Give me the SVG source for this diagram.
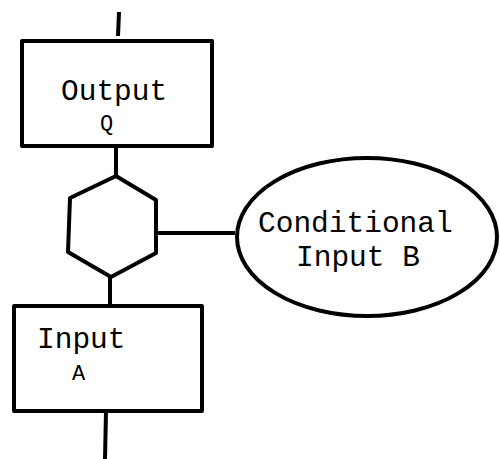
<svg xmlns="http://www.w3.org/2000/svg" width="500" height="459" viewBox="0 0 500 459">
  <style>
    .shape { fill: #fff; stroke: #000; stroke-width: 4; stroke-linejoin: round; }
    .wire { fill: none; stroke: #000; stroke-width: 4; }
    .lbl { font-family: "Liberation Mono", "DejaVu Sans Mono", monospace; font-size: 29.5px; fill: #000; }
    .sub { font-family: "Liberation Mono", "DejaVu Sans Mono", monospace; font-size: 22px; fill: #000; }
  </style>
  <rect width="500" height="459" fill="#fff"/>
  <g id="connectors">
    <line class="wire" x1="119" y1="12" x2="118" y2="36"/>
    <line class="wire" x1="116" y1="146" x2="116" y2="176"/>
    <line class="wire" x1="156" y1="233" x2="235" y2="233"/>
    <line class="wire" x1="110" y1="277" x2="110" y2="306"/>
    <line class="wire" x1="106" y1="411" x2="105" y2="459"/>
  </g>
  <g id="output-q">
    <rect class="shape" x="22" y="41" width="190" height="105"/>
    <text class="lbl" x="61" y="100">Output</text>
    <text class="sub" x="100" y="130">Q</text>
  </g>
  <g id="gate">
    <polygon class="shape" points="116,176 156,200 156,253 111,277 68,252 70,198"/>
  </g>
  <g id="conditional-input-b">
    <ellipse class="shape" cx="367" cy="237" rx="130" ry="79"/>
    <text class="lbl" x="258" y="232">Conditional</text>
    <text class="lbl" x="296" y="266">Input B</text>
  </g>
  <g id="input-a">
    <rect class="shape" x="14" y="306" width="188" height="105"/>
    <text class="lbl" x="37" y="348">Input</text>
    <text class="sub" x="72" y="380">A</text>
  </g>
</svg>
